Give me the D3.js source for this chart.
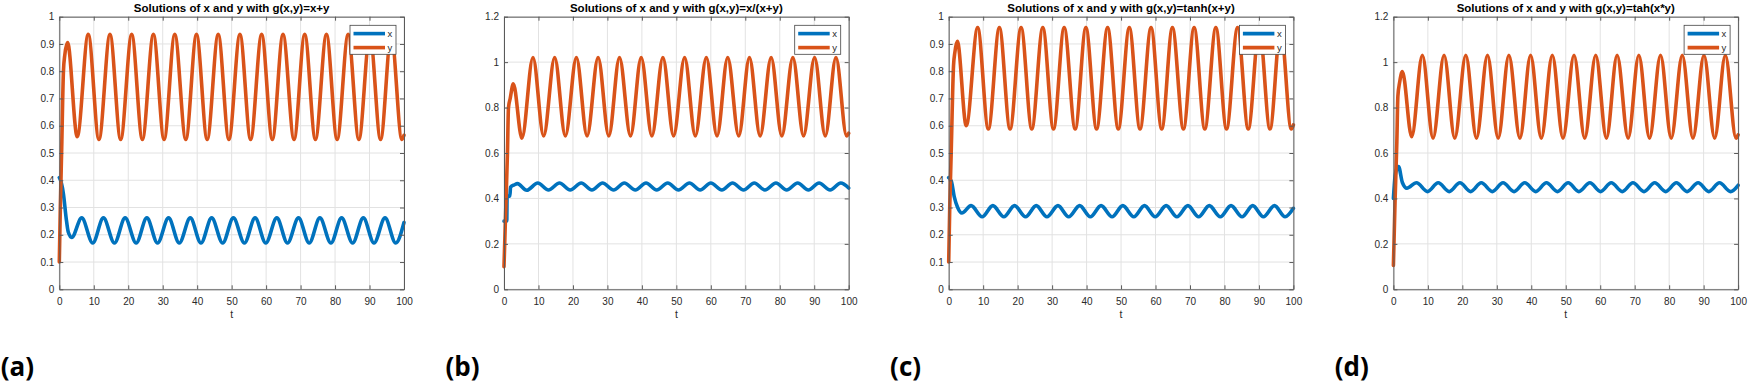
<!DOCTYPE html>
<html>
<head>
<meta charset="utf-8">
<script src="https://cdn.jsdelivr.net/npm/d3@7"></script>
<style>
  body { margin: 0; background: #fff; }
  svg { display: block; }
</style>
</head>
<body>
<div id="chart"></div>
<script>
// shared tick values
const tTicks = [0, 10, 20, 30, 40, 50, 60, 70, 80, 90, 100];
const yTicksTenths = [0, 0.1, 0.2, 0.3, 0.4, 0.5, 0.6, 0.7, 0.8, 0.9, 1];
const yTicksFifths = [0, 0.2, 0.4, 0.6, 0.8, 1, 1.2];

// (a) g(x,y)=x+y  -- values read at turning points of each curve
const tXa = [0, 0.6, 1.2, 2.0, 2.6, 3.6, 6.5, 9.7, 12.8, 16.0, 19.1, 22.3, 25.4, 28.5, 31.7, 34.8, 38.0, 41.1, 44.2, 47.4, 50.5, 53.7, 56.8, 59.9, 63.1, 66.2, 69.4, 72.5, 75.6, 78.8, 81.9, 85.1, 88.2, 91.3, 94.5, 97.6, 100];
const xA = [0.41, 0.39, 0.35, 0.26, 0.21, 0.19, 0.262, 0.17, 0.262, 0.17, 0.262, 0.17, 0.262, 0.17, 0.262, 0.17, 0.262, 0.17, 0.262, 0.17, 0.262, 0.17, 0.262, 0.17, 0.262, 0.17, 0.262, 0.17, 0.262, 0.17, 0.262, 0.17, 0.262, 0.17, 0.262, 0.17, 0.245];
const tYa = [0, 0.3, 0.7, 1.2, 1.6, 2.4, 5.2, 8.4, 11.5, 14.7, 17.8, 21.0, 24.1, 27.3, 30.4, 33.5, 36.7, 39.8, 42.9, 46.1, 49.2, 52.4, 55.5, 58.7, 61.8, 64.9, 68.1, 71.2, 74.3, 77.5, 80.6, 83.8, 86.9, 90.1, 93.2, 96.3, 99.4, 100];
const yA = [0.10, 0.30, 0.52, 0.80, 0.86, 0.905, 0.56, 0.935, 0.55, 0.935, 0.55, 0.935, 0.55, 0.935, 0.55, 0.935, 0.55, 0.935, 0.55, 0.935, 0.55, 0.935, 0.55, 0.935, 0.55, 0.935, 0.55, 0.935, 0.55, 0.935, 0.55, 0.935, 0.55, 0.935, 0.55, 0.935, 0.55, 0.565];

// (b) g(x,y)=x/(x+y)
const tXb = [0, 0.8, 0.9, 1.7, 1.9, 3.0, 3.9, 6.6, 9.8, 12.9, 16.1, 19.2, 22.4, 25.5, 28.6, 31.8, 34.9, 38.1, 41.2, 44.3, 47.5, 50.6, 53.8, 56.9, 60.0, 63.2, 66.3, 69.5, 72.6, 75.7, 78.9, 82.0, 85.2, 88.3, 91.4, 94.6, 97.7, 100];
const xB = [0.30, 0.30, 0.41, 0.41, 0.45, 0.46, 0.465, 0.436, 0.468, 0.437, 0.468, 0.437, 0.468, 0.437, 0.468, 0.437, 0.468, 0.437, 0.468, 0.437, 0.468, 0.437, 0.468, 0.437, 0.468, 0.437, 0.468, 0.437, 0.468, 0.437, 0.468, 0.437, 0.468, 0.437, 0.468, 0.437, 0.468, 0.446];
const tYb = [0, 0.5, 1.0, 1.3, 1.8, 2.7, 5.2, 8.4, 11.5, 14.7, 17.8, 21.0, 24.1, 27.3, 30.4, 33.5, 36.7, 39.8, 42.9, 46.1, 49.2, 52.4, 55.5, 58.7, 61.8, 64.9, 68.1, 71.2, 74.3, 77.5, 80.6, 83.8, 86.9, 90.1, 93.2, 96.3, 99.4, 100];
const yB = [0.10, 0.35, 0.60, 0.80, 0.84, 0.905, 0.665, 1.02, 0.675, 1.02, 0.675, 1.02, 0.675, 1.02, 0.675, 1.02, 0.675, 1.02, 0.675, 1.02, 0.675, 1.02, 0.675, 1.02, 0.675, 1.02, 0.675, 1.02, 0.675, 1.02, 0.675, 1.02, 0.675, 1.02, 0.675, 1.02, 0.675, 0.687];

// (c) g(x,y)=tanh(x+y)
const tXc = [0, 0.8, 1.6, 2.6, 3.8, 6.5, 9.7, 12.8, 16.0, 19.1, 22.3, 25.4, 28.5, 31.7, 34.8, 38.0, 41.1, 44.2, 47.4, 50.5, 53.7, 56.8, 59.9, 63.1, 66.2, 69.4, 72.5, 75.6, 78.8, 81.9, 85.1, 88.2, 91.3, 94.5, 97.6, 100];
const xC = [0.41, 0.395, 0.34, 0.30, 0.28, 0.307, 0.266, 0.307, 0.266, 0.307, 0.266, 0.307, 0.266, 0.307, 0.266, 0.307, 0.266, 0.307, 0.266, 0.307, 0.266, 0.307, 0.266, 0.307, 0.266, 0.307, 0.266, 0.307, 0.266, 0.307, 0.266, 0.307, 0.266, 0.307, 0.266, 0.297];
const tYc = [0, 0.3, 0.7, 1.4, 1.8, 2.5, 5.1, 8.4, 11.5, 14.7, 17.8, 21.0, 24.1, 27.3, 30.4, 33.5, 36.7, 39.8, 42.9, 46.1, 49.2, 52.4, 55.5, 58.7, 61.8, 64.9, 68.1, 71.2, 74.3, 77.5, 80.6, 83.8, 86.9, 90.1, 93.2, 96.3, 99.4, 100];
const yC = [0.10, 0.30, 0.49, 0.82, 0.87, 0.91, 0.60, 0.96, 0.588, 0.96, 0.588, 0.96, 0.588, 0.96, 0.588, 0.96, 0.588, 0.96, 0.588, 0.96, 0.588, 0.96, 0.588, 0.96, 0.588, 0.96, 0.588, 0.96, 0.588, 0.96, 0.588, 0.96, 0.588, 0.96, 0.588, 0.96, 0.588, 0.603];

// (d) g(x,y)=tah(x*y)
const tXd = [0, 0.5, 1.0, 1.5, 2.6, 3.9, 6.7, 9.9, 13.0, 16.2, 19.3, 22.4, 25.5, 28.7, 31.8, 35.0, 38.1, 41.3, 44.4, 47.6, 50.7, 53.8, 57.0, 60.1, 63.2, 66.4, 69.5, 72.7, 75.8, 79.0, 82.1, 85.2, 88.4, 91.5, 94.6, 97.8, 100];
const xD = [0.40, 0.50, 0.53, 0.54, 0.47, 0.445, 0.469, 0.43, 0.469, 0.43, 0.469, 0.43, 0.469, 0.43, 0.469, 0.43, 0.469, 0.43, 0.469, 0.43, 0.469, 0.43, 0.469, 0.43, 0.469, 0.43, 0.469, 0.43, 0.469, 0.43, 0.469, 0.43, 0.469, 0.43, 0.469, 0.43, 0.458];
const tYd = [0, 0.5, 1.0, 1.3, 1.8, 2.6, 5.3, 8.4, 11.5, 14.7, 17.8, 21.0, 24.1, 27.3, 30.4, 33.5, 36.7, 39.8, 42.9, 46.1, 49.2, 52.4, 55.5, 58.7, 61.8, 64.9, 68.1, 71.2, 74.3, 77.5, 80.6, 83.8, 86.9, 90.1, 93.2, 96.3, 99.4, 100];
const yD = [0.105, 0.40, 0.65, 0.85, 0.91, 0.958, 0.672, 1.03, 0.665, 1.03, 0.665, 1.03, 0.665, 1.03, 0.665, 1.03, 0.665, 1.03, 0.665, 1.03, 0.665, 1.03, 0.665, 1.03, 0.665, 1.03, 0.665, 1.03, 0.665, 1.03, 0.665, 1.03, 0.665, 1.03, 0.665, 1.03, 0.665, 0.68];

const tags = ["(a)", "(b)", "(c)", "(d)"];
const titles = [
    "Solutions of x and y with g(x,y)=x+y",
    "Solutions of x and y with g(x,y)=x/(x+y)",
    "Solutions of x and y with g(x,y)=tanh(x+y)",
    "Solutions of x and y with g(x,y)=tah(x*y)"
];
const yMaxes = [1, 1.2, 1, 1.2];
const legendNames = ["x", "y"];

const panels = [
    { tx: tXa, x: xA, ty: tYa, y: yA, yTicks: yTicksTenths },
    { tx: tXb, x: xB, ty: tYb, y: yB, yTicks: yTicksFifths },
    { tx: tXc, x: xC, ty: tYc, y: yC, yTicks: yTicksTenths },
    { tx: tXd, x: xD, ty: tYd, y: yD, yTicks: yTicksFifths }
];

const colors = ["#0072BD", "#D95319"];
const font = "'Liberation Sans', Arial, Helvetica, sans-serif";

// 1. canvas
const W = 1750, H = 383;
const svg = d3.select("#chart").append("svg")
    .attr("width", W)
    .attr("height", H);
svg.append("rect").attr("width", W).attr("height", H).attr("fill", "#fff");

// plot box geometry (matlab-style axes)
const plotW = 344.7, plotH = 272.6, plotTop = 16.7;
const firstLeft = 59.3, step = 444.7;

panels.forEach((p, i) => {
    const left = firstLeft + i * step;
    const g = svg.append("g").attr("transform", `translate(${left},${plotTop})`);

    const xScale = d3.scaleLinear().domain([0, 100]).range([0, plotW]);
    const yScale = d3.scaleLinear().domain([0, yMaxes[i]]).range([plotH, 0]);

    // 2. grid
    g.append("g").selectAll("line").data(tTicks).join("line")
        .attr("x1", d => xScale(d)).attr("x2", d => xScale(d))
        .attr("y1", 0).attr("y2", plotH)
        .attr("stroke", "#e2e2e2").attr("stroke-width", 1);
    g.append("g").selectAll("line").data(p.yTicks).join("line")
        .attr("x1", 0).attr("x2", plotW)
        .attr("y1", d => yScale(d)).attr("y2", d => yScale(d))
        .attr("stroke", "#e2e2e2").attr("stroke-width", 1);

    // 3. lines, x first then y on top
    const line = d3.line()
        .x(d => xScale(d[0]))
        .y(d => yScale(d[1]))
        .curve(d3.curveMonotoneX);
    [[p.tx, p.x], [p.ty, p.y]].forEach(([ts, vs], k) => {
        g.append("path")
            .datum(d3.zip(ts, vs))
            .attr("d", line)
            .attr("fill", "none")
            .attr("stroke", colors[k])
            .attr("stroke-width", 3.6)
            .attr("stroke-linejoin", "round")
            .attr("stroke-linecap", "round");
    });

    // 4. axes, ticks inward on all four sides
    const styleAxis = sel => {
        sel.select(".domain").attr("stroke", "#5a5a5a");
        sel.selectAll(".tick line").attr("stroke", "#5a5a5a");
        sel.selectAll("text")
            .attr("fill", "#2a2a2a")
            .style("font-family", font)
            .style("font-size", "10px");
    };
    g.append("g")
        .attr("transform", `translate(0,${plotH})`)
        .call(d3.axisBottom(xScale).tickValues(tTicks).tickFormat(d => String(d)).tickSize(-4).tickSizeOuter(0).tickPadding(8.5))
        .call(styleAxis);
    g.append("g")
        .call(d3.axisLeft(yScale).tickValues(p.yTicks).tickFormat(d => String(d)).tickSize(-4).tickSizeOuter(0).tickPadding(5))
        .call(styleAxis);
    g.append("g")
        .call(d3.axisTop(xScale).tickValues(tTicks).tickFormat("").tickSize(-4).tickSizeOuter(0))
        .call(styleAxis);
    g.append("g")
        .attr("transform", `translate(${plotW},0)`)
        .call(d3.axisRight(yScale).tickValues(p.yTicks).tickFormat("").tickSize(-4).tickSizeOuter(0))
        .call(styleAxis);

    // 5. title and axis label
    g.append("text")
        .text(titles[i])
        .attr("x", plotW / 2)
        .attr("y", 12.4 - plotTop)
        .style("font-family", font)
        .style("font-size", "11.5px")
        .style("font-weight", 700)
        .style("text-anchor", "middle");
    g.append("text")
        .text("t")
        .attr("x", plotW / 2)
        .attr("y", 318.5 - plotTop)
        .attr("fill", "#2a2a2a")
        .style("font-family", font)
        .style("font-size", "10.5px")
        .style("text-anchor", "middle");

    // 6. legend box in the upper right corner
    const lg = g.append("g").attr("transform", `translate(${plotW - 54},8.6)`);
    lg.append("rect")
        .attr("width", 46).attr("height", 29)
        .attr("fill", "#fff")
        .attr("stroke", "#444").attr("stroke-width", 0.8);
    legendNames.forEach((name, k) => {
        lg.append("line")
            .attr("x1", 3.5).attr("x2", 35)
            .attr("y1", 8.3 + k * 14).attr("y2", 8.3 + k * 14)
            .attr("stroke", colors[k]).attr("stroke-width", 3.6);
        lg.append("text")
            .text(name)
            .attr("x", 37.5)
            .attr("y", 11.3 + k * 14)
            .attr("fill", "#2a2a2a")
            .style("font-family", font)
            .style("font-size", "9.5px");
    });

    // 7. sub-figure tag
    svg.append("text")
        .text(tags[i])
        .attr("x", left - 58.6)
        .attr("y", 376)
        .style("font-family", "'Open Sans', 'DejaVu Sans', sans-serif")
        .style("font-size", "26px")
        .style("font-weight", 700);
});
</script>
</body>
</html>
